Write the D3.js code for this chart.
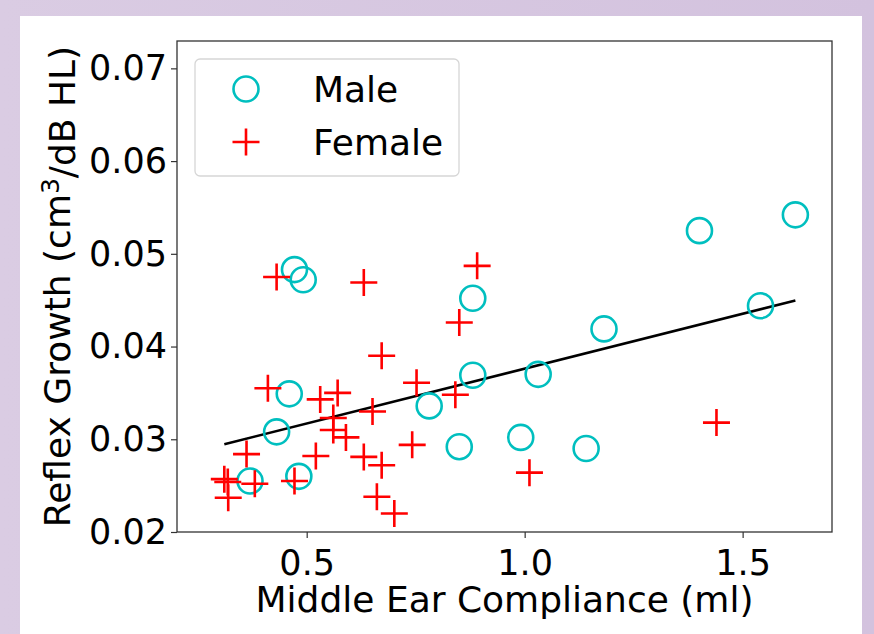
<!DOCTYPE html>
<html>
<head>
<meta charset="utf-8">
<script src="https://cdn.jsdelivr.net/npm/d3@7"></script>
<style>
  body { margin: 0; }
  svg { display: block; font-family: "DejaVu Sans", sans-serif; }
</style>
</head>
<body>
<svg id="chart"></svg>
<script>
// data
const maleX = [0.472, 0.492, 0.881, 0.881, 0.460, 0.781, 0.431, 0.850, 0.370, 0.482,
               1.031, 0.991, 1.141, 1.182, 1.401, 1.621, 1.541];
const maleY = [0.0483, 0.0472, 0.0452, 0.0369, 0.0349, 0.0336, 0.0308, 0.0292, 0.0255, 0.0260,
               0.0370, 0.0302, 0.0290, 0.0419, 0.0525, 0.0542, 0.0444];

const femaleX = [0.431, 0.631, 0.891, 0.850, 0.672, 0.411, 0.752, 0.531, 0.571, 0.841,
                 0.651, 0.561, 0.561, 0.590, 0.742, 0.362, 0.521, 0.631, 0.672, 0.472,
                 0.661, 0.701, 1.011, 1.440, 0.311, 0.319, 0.320, 0.381];
const femaleY = [0.0475, 0.0469, 0.0487, 0.0426, 0.0390, 0.0355, 0.0361, 0.0343, 0.0350, 0.0348,
                 0.0330, 0.0323, 0.0310, 0.0302, 0.0294, 0.0284, 0.0282, 0.0281, 0.0272, 0.0255,
                 0.0238, 0.0220, 0.0264, 0.0318, 0.0257, 0.0254, 0.0237, 0.0252];

// linear fit
const fitSlope = 0.01184;
const fitIntercept = 0.02578;

const xTicks = [0.5, 1.0, 1.5];
const yTicks = [0.02, 0.03, 0.04, 0.05, 0.06, 0.07];
const legendLabels = ["Male", "Female"];

const W = 874, H = 634;
const margin = { top: 41, right: 42, bottom: 102, left: 177 };
const width = W - margin.left - margin.right;
const height = H - margin.top - margin.bottom;

const maleColor = "#00bfbf";
const femaleColor = "#ff0000";
const font = "'DejaVu Sans', sans-serif";

const svg = d3.select("#chart").attr("width", W).attr("height", H);

// background
const grad = svg.append("defs").append("linearGradient")
    .attr("id", "bg").attr("x1", "0%").attr("x2", "100%").attr("y1", "0%").attr("y2", "0%");
grad.append("stop").attr("offset", "0%").attr("stop-color", "#dacce3");
grad.append("stop").attr("offset", "100%").attr("stop-color", "#d3c2de");
svg.append("rect").attr("width", W).attr("height", H).attr("fill", "url(#bg)");
svg.append("rect").attr("x", 20).attr("y", 16).attr("width", 842).attr("height", H - 16).attr("fill", "#fff");

const g = svg.append("g").attr("transform", `translate(${margin.left},${margin.top})`);

const x = d3.scaleLinear().domain([0.2025, 1.705]).range([0, width]);
const y = d3.scaleLinear().domain([0.02, 0.07295]).range([height, 0]);

// axes
const xAxis = g.append("g").attr("transform", `translate(0,${height})`)
    .call(d3.axisBottom(x).tickValues(xTicks).tickFormat(d3.format(".1f")).tickSize(6).tickPadding(5));
const yAxis = g.append("g")
    .call(d3.axisLeft(y).tickValues(yTicks).tickFormat(d3.format(".2f")).tickSize(6).tickPadding(4));
[xAxis, yAxis].forEach(a => {
    a.attr("font-family", font).attr("font-size", 35);
    a.select(".domain").remove();
    a.selectAll("line").attr("stroke", "#333").attr("stroke-width", 1.2);
    a.selectAll("text").attr("fill", "#000");
});
xAxis.selectAll("text").attr("dy", "0.9em");

// regression line across data range
const allX = maleX.concat(femaleX);
const lineX = d3.extent(allX);
g.append("line")
    .attr("x1", x(lineX[0])).attr("y1", y(fitIntercept + fitSlope * lineX[0]))
    .attr("x2", x(lineX[1])).attr("y2", y(fitIntercept + fitSlope * lineX[1]))
    .attr("stroke", "#000").attr("stroke-width", 2.6);

// male circles
g.selectAll(".male")
    .data(maleX.map((v, i) => [v, maleY[i]]))
    .join("circle")
    .attr("class", "male")
    .attr("cx", d => x(d[0])).attr("cy", d => y(d[1]))
    .attr("r", 12.5)
    .attr("fill", "none").attr("stroke", maleColor).attr("stroke-width", 2.6);

// female crosses
g.selectAll(".female")
    .data(femaleX.map((v, i) => [v, femaleY[i]]))
    .join("path")
    .attr("class", "female")
    .attr("transform", d => `translate(${x(d[0])},${y(d[1])})`)
    .attr("d", "M-13.5,0H13.5M0,-13.5V13.5")
    .attr("stroke", femaleColor).attr("stroke-width", 2.6).attr("fill", "none");

// frame
g.append("rect").attr("width", width).attr("height", height)
    .attr("fill", "none").attr("stroke", "#333").attr("stroke-width", 1.3);

// axis labels
svg.append("text")
    .attr("x", margin.left + width / 2).attr("y", 612)
    .attr("text-anchor", "middle").style("font-size", "36px")
    .text("Middle Ear Compliance (ml)");

const yl = svg.append("text")
    .attr("transform", `translate(70,${margin.top + height / 2}) rotate(-90)`)
    .attr("text-anchor", "middle").style("font-size", "36px");
yl.append("tspan").text("Reflex Growth (cm");
yl.append("tspan").attr("dy", "-0.45em").style("font-size", "25px").text("3");
yl.append("tspan").attr("dy", "0.45em").text("/dB HL)");

// legend
const lg = svg.append("g");
lg.append("rect").attr("x", 195).attr("y", 59).attr("width", 264).attr("height", 117).attr("rx", 5)
    .attr("fill", "#fff").attr("stroke", "#d6d6d6").attr("stroke-width", 1.3);
lg.append("circle").attr("cx", 246).attr("cy", 89).attr("r", 12.5)
    .attr("fill", "none").attr("stroke", maleColor).attr("stroke-width", 2.6);
lg.append("path").attr("transform", "translate(246,142)").attr("d", "M-13.5,0H13.5M0,-13.5V13.5")
    .attr("stroke", femaleColor).attr("stroke-width", 2.6);
lg.selectAll(".lt").data(legendLabels).join("text")
    .attr("class", "lt")
    .attr("x", 313).attr("y", (d, i) => 102 + i * 53)
    .style("font-size", "36px").text(d => d);
</script>
</body>
</html>
